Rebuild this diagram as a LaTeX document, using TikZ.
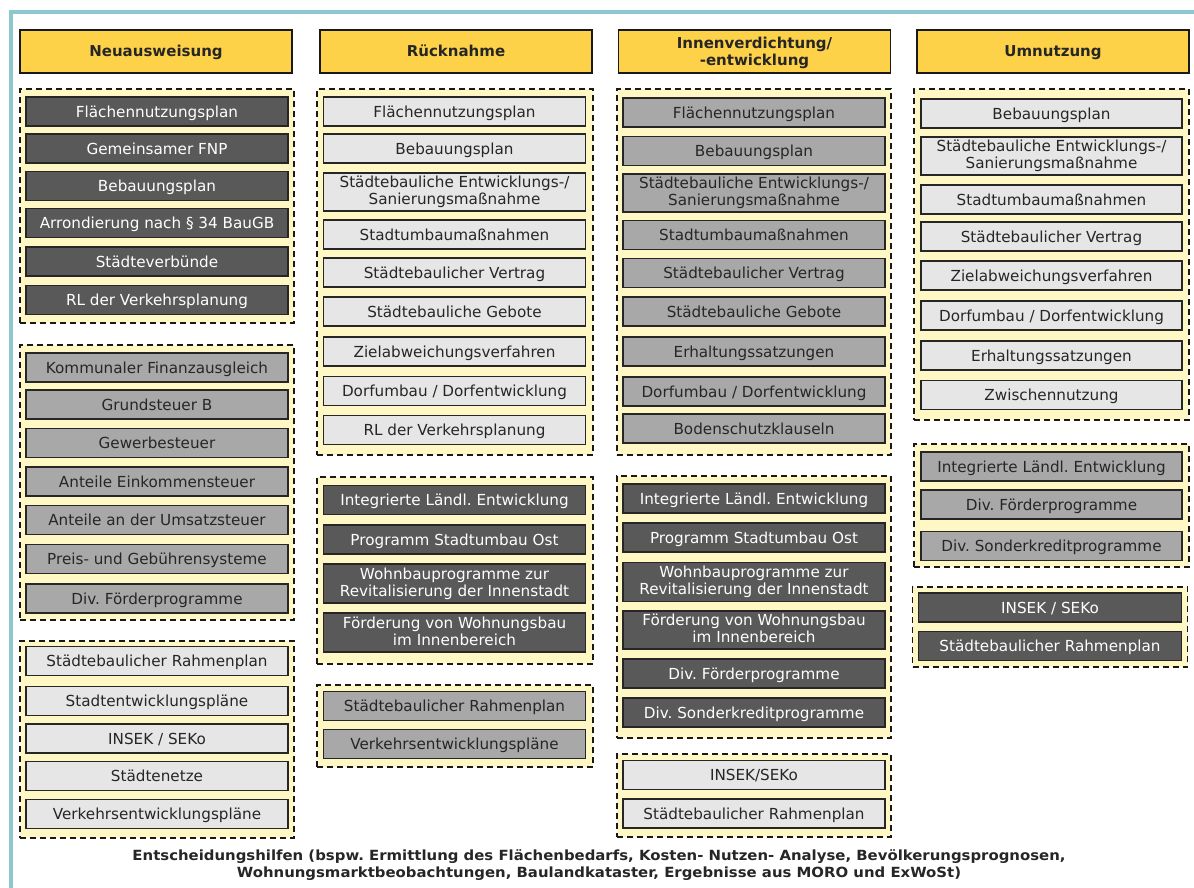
\documentclass[tikz,border=0pt]{standalone}
\usepackage{fontspec}
\setmainfont{DejaVu Sans}
\frenchspacing
\definecolor{frameT}{RGB}{140,200,205}
\definecolor{hdrY}{RGB}{254,210,72}
\definecolor{grpY}{RGB}{255,247,196}
\definecolor{boxD}{RGB}{89,89,89}
\definecolor{boxM}{RGB}{168,168,168}
\definecolor{boxL}{RGB}{230,230,230}
\definecolor{txt}{RGB}{38,38,38}
\newcommand\oneL[1]{\rule[-4pt]{0pt}{19.8pt}#1}
\newcommand\twoL[2]{\rule{0pt}{12.4pt}#1\\\rule[-4pt]{0pt}{0pt}#2}
\newcommand\oneH[1]{\rule[-4pt]{0pt}{18pt}#1}
\begin{document}
\begin{tikzpicture}[x=1pt,y=-1pt,
  hdr/.style={draw=black!90, line width=1.3pt, fill=hdrY, minimum width=272pt, minimum height=43pt,
    inner sep=0pt, align=center, text=txt, font=\fontsize{15}{17}\selectfont\bfseries},
  grp/.style={draw=black!90, line width=1.6pt, dash pattern=on 6pt off 4pt, fill=grpY, inner sep=0pt},
  bx/.style={draw=black!85, line width=1.3pt, minimum width=262pt, minimum height=29pt, inner sep=0pt,
    align=center, font=\fontsize{15.2}{16.6}\selectfont},
  dk/.style={bx, fill=boxD, text=white},
  md/.style={bx, fill=boxM, text=txt},
  lt/.style={bx, fill=boxL, text=txt},
  tall/.style={minimum height=39pt}
]
\useasboundingbox (0,0) rectangle (1194,887);
\clip (0,0) rectangle (1194,887);
\fill[white] (0,0) rectangle (1194,887);
\draw[frameT, line width=4pt] (10.5,11.5) rectangle (1220,920);

% headers
\node[hdr] (h1) at (156,51.5) {\oneH{Neuausweisung}};
\node[hdr] (h2) at (456,51.5) {\oneH{Rücknahme}};
\node[hdr] (h3) at (754.5,51.5) {\rule{0pt}{14pt}Innenverdichtung/\\\rule[-4pt]{0pt}{0pt}-entwicklung};
\node[hdr] (h4) at (1053,51.5) {\oneH{Umnutzung}};

% groups column 1
\node[grp, minimum width=274pt, minimum height=234pt] (g11) at (157,206) {};
\node[grp, minimum width=274pt, minimum height=275pt] (g12) at (157,482.5) {};
\node[grp, minimum width=274pt, minimum height=197pt] (g13) at (157,739.5) {};
% groups column 2
\node[grp, minimum width=276pt, minimum height=366pt] (g21) at (455,272) {};
\node[grp, minimum width=276pt, minimum height=187pt] (g22) at (455,570.5) {};
\node[grp, minimum width=276pt, minimum height=82pt] (g23) at (455,726) {};
% groups column 3
\node[grp, minimum width=274pt, minimum height=366pt] (g31) at (754,272) {};
\node[grp, minimum width=274pt, minimum height=262pt] (g32) at (754,607) {};
\node[grp, minimum width=274pt, minimum height=83pt] (g33) at (754,795.5) {};
% groups column 4
\node[grp, minimum width=275pt, minimum height=331pt] (g41) at (1051.5,254.5) {};
\node[grp, minimum width=275pt, minimum height=123pt] (g42) at (1051.5,505.5) {};
\node[grp, minimum width=275pt, minimum height=80pt] (g43) at (1050,627) {};

% column 1
\node[dk] (a1) at (157,111.5) {\oneL{Flächennutzungsplan}};
\node[dk] (a2) at (157,148.5) {\oneL{Gemeinsamer FNP}};
\node[dk] (a3) at (157,186) {\oneL{Bebauungsplan}};
\node[dk] (a4) at (157,223) {\oneL{Arrondierung nach § 34 BauGB}};
\node[dk] (a5) at (157,261.5) {\oneL{Städteverbünde}};
\node[dk] (a6) at (157,300) {\oneL{RL der Verkehrsplanung}};
\node[md] (b1) at (157,367.5) {\oneL{Kommunaler Finanzausgleich}};
\node[md] (b2) at (157,404.5) {\oneL{Grundsteuer B}};
\node[md] (b3) at (157,443) {\oneL{Gewerbesteuer}};
\node[md] (b4) at (157,481.5) {\oneL{Anteile Einkommensteuer}};
\node[md] (b5) at (157,520) {\oneL{Anteile an der Umsatzsteuer}};
\node[md] (b6) at (157,559) {\oneL{Preis- und Gebührensysteme}};
\node[md] (b7) at (157,598.5) {\oneL{Div. Förderprogramme}};
\node[lt] (c1) at (157,661) {\oneL{Städtebaulicher Rahmenplan}};
\node[lt] (c2) at (157,701) {\oneL{Stadtentwicklungspläne}};
\node[lt] (c3) at (157,738.5) {\oneL{INSEK / SEKo}};
\node[lt] (c4) at (157,776) {\oneL{Städtenetze}};
\node[lt] (c5) at (157,814) {\oneL{Verkehrsentwicklungspläne}};

% column 2
\node[lt] (d1) at (454.5,111.5) {\oneL{Flächennutzungsplan}};
\node[lt] (d2) at (454.5,148.5) {\oneL{Bebauungsplan}};
\node[lt, minimum height=38pt] (d3) at (454.5,192) {\twoL{Städtebauliche Entwicklungs-/}{Sanierungsmaßnahme}};
\node[lt] (d4) at (454.5,234.5) {\oneL{Stadtumbaumaßnahmen}};
\node[lt] (d5) at (454.5,272.5) {\oneL{Städtebaulicher Vertrag}};
\node[lt] (d6) at (454.5,311.5) {\oneL{Städtebauliche Gebote}};
\node[lt] (d7) at (454.5,351.5) {\oneL{Zielabweichungsverfahren}};
\node[lt] (d8) at (454.5,391) {\oneL{Dorfumbau / Dorfentwicklung}};
\node[lt] (d9) at (454.5,430) {\oneL{RL der Verkehrsplanung}};
\node[dk] (e1) at (454.5,500) {\oneL{Integrierte Ländl. Entwicklung}};
\node[dk] (e2) at (454.5,539.5) {\oneL{Programm Stadtumbau Ost}};
\node[dk, tall] (e3) at (454.5,583.5) {\twoL{Wohnbauprogramme zur}{Revitalisierung der Innenstadt}};
\node[dk, tall] (e4) at (454.5,632.5) {\twoL{Förderung von Wohnungsbau}{im Innenbereich}};
\node[md] (f1) at (454.5,706) {\oneL{Städtebaulicher Rahmenplan}};
\node[md] (f2) at (454.5,744) {\oneL{Verkehrsentwicklungspläne}};

% column 3
\node[md] (k1) at (754,112.5) {\oneL{Flächennutzungsplan}};
\node[md] (k2) at (754,151) {\oneL{Bebauungsplan}};
\node[md, minimum height=38pt] (k3) at (754,193) {\twoL{Städtebauliche Entwicklungs-/}{Sanierungsmaßnahme}};
\node[md] (k4) at (754,235) {\oneL{Stadtumbaumaßnahmen}};
\node[md] (k5) at (754,273) {\oneL{Städtebaulicher Vertrag}};
\node[md] (k6) at (754,311.5) {\oneL{Städtebauliche Gebote}};
\node[md] (k7) at (754,351.5) {\oneL{Erhaltungssatzungen}};
\node[md] (k8) at (754,391.5) {\oneL{Dorfumbau / Dorfentwicklung}};
\node[md] (k9) at (754,428.5) {\oneL{Bodenschutzklauseln}};
\node[dk] (m1) at (754,498.5) {\oneL{Integrierte Ländl. Entwicklung}};
\node[dk] (m2) at (754,537.5) {\oneL{Programm Stadtumbau Ost}};
\node[dk, tall] (m3) at (754,582) {\twoL{Wohnbauprogramme zur}{Revitalisierung der Innenstadt}};
\node[dk, minimum height=38pt] (m4) at (754,630) {\twoL{Förderung von Wohnungsbau}{im Innenbereich}};
\node[dk] (m5) at (754,673.5) {\oneL{Div. Förderprogramme}};
\node[dk] (m6) at (754,712.5) {\oneL{Div. Sonderkreditprogramme}};
\node[lt] (n1) at (754,775) {\oneL{INSEK/SEKo}};
\node[lt] (n2) at (754,813.5) {\oneL{Städtebaulicher Rahmenplan}};

% column 4
\node[lt, minimum width=261pt] (p1) at (1051.5,113.5) {\oneL{Bebauungsplan}};
\node[lt, minimum width=261pt, minimum height=38pt] (p2) at (1051.5,156) {\twoL{Städtebauliche Entwicklungs-/}{Sanierungsmaßnahme}};
\node[lt, minimum width=261pt] (p3) at (1051.5,199.5) {\oneL{Stadtumbaumaßnahmen}};
\node[lt, minimum width=261pt] (p4) at (1051.5,236.5) {\oneL{Städtebaulicher Vertrag}};
\node[lt, minimum width=261pt] (p5) at (1051.5,275.5) {\oneL{Zielabweichungsverfahren}};
\node[lt, minimum width=261pt] (p6) at (1051.5,315.5) {\oneL{Dorfumbau / Dorfentwicklung}};
\node[lt, minimum width=261pt] (p7) at (1051.5,355.5) {\oneL{Erhaltungssatzungen}};
\node[lt, minimum width=261pt] (p8) at (1051.5,395) {\oneL{Zwischennutzung}};
\node[md, minimum width=261pt] (q1) at (1051.5,466.5) {\oneL{Integrierte Ländl. Entwicklung}};
\node[md, minimum width=261pt] (q2) at (1051.5,504.5) {\oneL{Div. Förderprogramme}};
\node[md, minimum width=261pt] (q3) at (1051.5,546) {\oneL{Div. Sonderkreditprogramme}};
\node[dk, minimum width=263pt] (r1) at (1050,607.5) {\oneL{INSEK / SEKo}};
\node[dk, minimum width=263pt] (r2) at (1050,646) {\oneL{Städtebaulicher Rahmenplan}};

% footer
\node[text=txt, inner sep=0pt, font=\fontsize{14}{17}\selectfont\bfseries] (foot) at (599,866)
  {\scalebox{1.064}[1]{\begin{tabular}{@{}c@{}}Entscheidungshilfen (bspw. Ermittlung des Flächenbedarfs, Kosten- Nutzen- Analyse, Bevölkerungsprognosen,\\
   Wohnungsmarktbeobachtungen, Baulandkataster, Ergebnisse aus MORO und ExWoSt)\end{tabular}}};
\end{tikzpicture}
\end{document}
